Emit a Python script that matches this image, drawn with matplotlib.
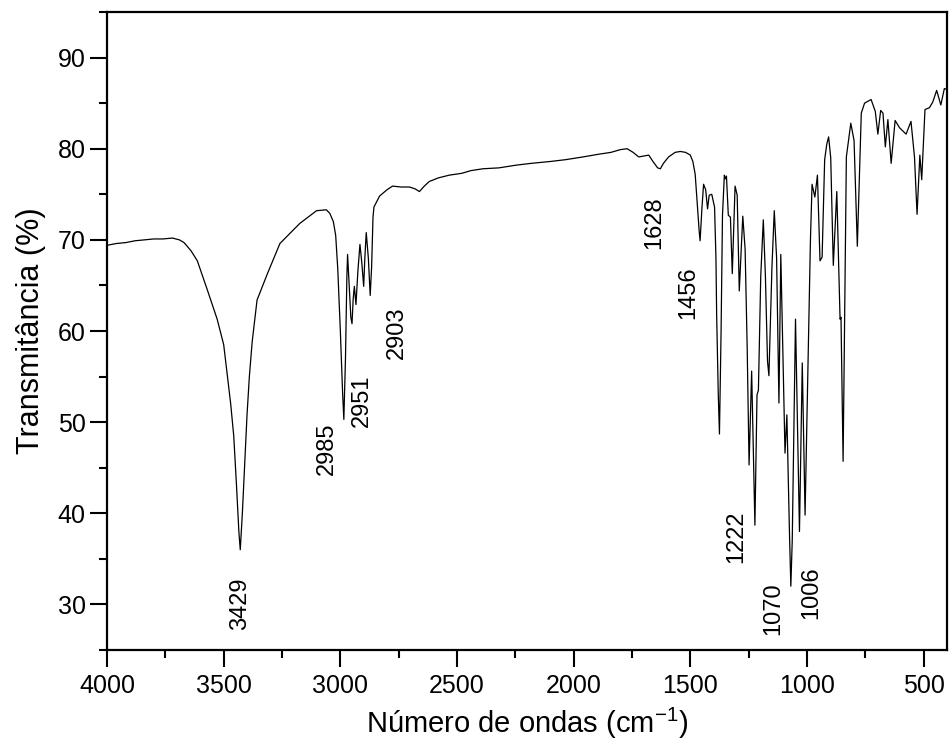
import matplotlib
matplotlib.use("Agg")
import matplotlib.pyplot as plt
from matplotlib.ticker import MultipleLocator

plt.rcParams['font.family'] = ['Liberation Sans', 'DejaVu Sans']
plt.rcParams['mathtext.default'] = 'regular'

# spectrum (wavenumber in cm-1, transmittance in %)
wavenumber = [4000, 3960, 3920, 3880, 3840, 3800, 3760, 3720, 3690, 3670,
              3640, 3613, 3570, 3528, 3500, 3485, 3470, 3457, 3445, 3435,
              3429, 3420, 3410, 3400, 3390, 3378, 3357, 3314, 3259, 3174,
              3102, 3060, 3045, 3030, 3020, 3011, 3000, 2990, 2985, 2978,
              2972, 2969, 2962, 2955, 2950, 2945, 2940, 2933, 2925, 2916,
              2908, 2900, 2895, 2889, 2880, 2872, 2866, 2860, 2856, 2832,
              2800, 2776, 2740, 2704, 2680, 2661, 2640, 2619, 2580, 2533,
              2480, 2440, 2389, 2320, 2246, 2180, 2100, 2034, 1960, 1892,
              1840, 1800, 1771, 1745, 1721, 1700, 1678, 1660, 1640, 1628,
              1615, 1593, 1565, 1543, 1520, 1500, 1489, 1479, 1469, 1462,
              1458, 1450, 1443, 1434, 1426, 1419, 1408, 1396, 1390, 1387,
              1380, 1375, 1368, 1362, 1354, 1350, 1345, 1337, 1328, 1320,
              1308, 1299, 1295, 1290, 1275, 1265, 1256, 1248, 1237, 1223,
              1214, 1208, 1198, 1187, 1178, 1169, 1163, 1150, 1140, 1130,
              1120, 1112, 1094, 1086, 1075, 1069, 1063, 1049, 1032, 1020,
              1008, 995, 985, 978, 966, 955, 944, 935, 924, 915,
              907, 898, 887, 872, 858, 854, 845, 831, 812, 798,
              784, 767, 753, 725, 707, 696, 684, 674, 664, 653,
              639, 622, 603, 575, 554, 539, 528, 516, 508, 494,
              475, 461, 444, 426, 411, 400]
transmittance = [69.4, 69.6, 69.7, 69.9, 70.0, 70.1, 70.1, 70.2, 70.0, 69.7,
                 68.8, 67.7, 64.5, 61.3, 58.5, 55.3, 52.0, 48.5, 43.0, 38.0,
                 36.0, 40.0, 45.5, 50.8, 55.0, 58.8, 63.4, 66.2, 69.6, 71.8,
                 73.2, 73.3, 72.9, 72.0, 70.5, 66.8, 60.0, 53.0, 50.3, 57.0,
                 66.0, 68.4, 65.0, 61.5, 60.8, 63.5, 64.9, 62.9, 66.5, 69.5,
                 67.5, 64.9, 68.0, 70.8, 68.0, 63.9, 67.0, 72.5, 73.6, 74.8,
                 75.5, 75.9, 75.8, 75.8, 75.6, 75.3, 75.9, 76.4, 76.8, 77.1,
                 77.3, 77.6, 77.8, 77.9, 78.2, 78.4, 78.6, 78.8, 79.1, 79.4,
                 79.6, 79.9, 80.0, 79.6, 79.1, 79.2, 79.3, 78.6, 77.9, 77.8,
                 78.4, 79.1, 79.6, 79.7, 79.6, 79.3, 78.6, 77.2, 73.6, 71.0,
                 69.9, 73.5, 76.1, 75.5, 73.4, 74.9, 75.0, 73.6, 68.0, 61.8,
                 53.0, 48.7, 60.0, 72.7, 77.1, 76.7, 77.0, 72.7, 72.5, 66.3,
                 75.9, 74.9, 70.0, 64.4, 72.6, 69.0, 58.0, 45.3, 55.6, 38.7,
                 53.0, 53.5, 66.0, 72.2, 66.0, 56.7, 55.1, 67.0, 73.2, 68.0,
                 52.1, 68.4, 46.6, 50.8, 38.0, 32.0, 37.0, 61.3, 38.0, 56.5,
                 39.8, 57.0, 70.0, 76.1, 74.7, 77.1, 67.7, 68.1, 78.8, 80.5,
                 81.3, 79.0, 67.2, 75.3, 61.3, 61.5, 45.7, 79.1, 82.8, 80.9,
                 69.3, 83.9, 85.0, 85.4, 84.1, 81.6, 84.2, 83.9, 80.2, 83.2,
                 78.4, 83.1, 82.3, 81.6, 83.0, 79.1, 72.8, 79.3, 76.6, 84.3,
                 84.5, 85.1, 86.4, 84.8, 86.6, 86.5]

# peak labels: text, x position, y position (data units)
peak_labels = ['3429', '2985', '2951', '2903', '1628', '1456', '1222', '1070', '1006']
label_x = [3429, 3058, 2909, 2759, 1653, 1509, 1304, 1144, 982]
label_y = [30.1, 47.1, 52.4, 59.8, 71.9, 64.2, 37.4, 29.5, 31.3]

fig = plt.figure(figsize=(9.49, 7.51), dpi=100)
ax = fig.add_axes([0.1128, 0.1345, 0.885, 0.8495])

ax.plot(wavenumber, transmittance, color='black', lw=0.9)

for txt, x, y in zip(peak_labels, label_x, label_y):
    ax.text(x, y, txt, rotation=90, ha='center', va='center', fontsize=17)

ax.set_xlim(4000, 400)
ax.set_ylim(25, 95)
ax.xaxis.set_major_locator(MultipleLocator(500))
ax.xaxis.set_minor_locator(MultipleLocator(250))
ax.yaxis.set_major_locator(MultipleLocator(10))
ax.yaxis.set_minor_locator(MultipleLocator(5))
ax.tick_params(which='major', direction='out', length=12, width=1.5, labelsize=18)
ax.tick_params(which='minor', direction='out', length=6, width=1.5)
ax.tick_params(axis='x', pad=5)
for s in ax.spines.values():
    s.set_linewidth(1.6)

ax.set_xlabel('Número de ondas (cm$^{-1}$)', fontsize=21, labelpad=6)
ax.set_ylabel('Transmitância (%)', fontsize=22, labelpad=8)

fig.savefig('out.png', dpi=100)
